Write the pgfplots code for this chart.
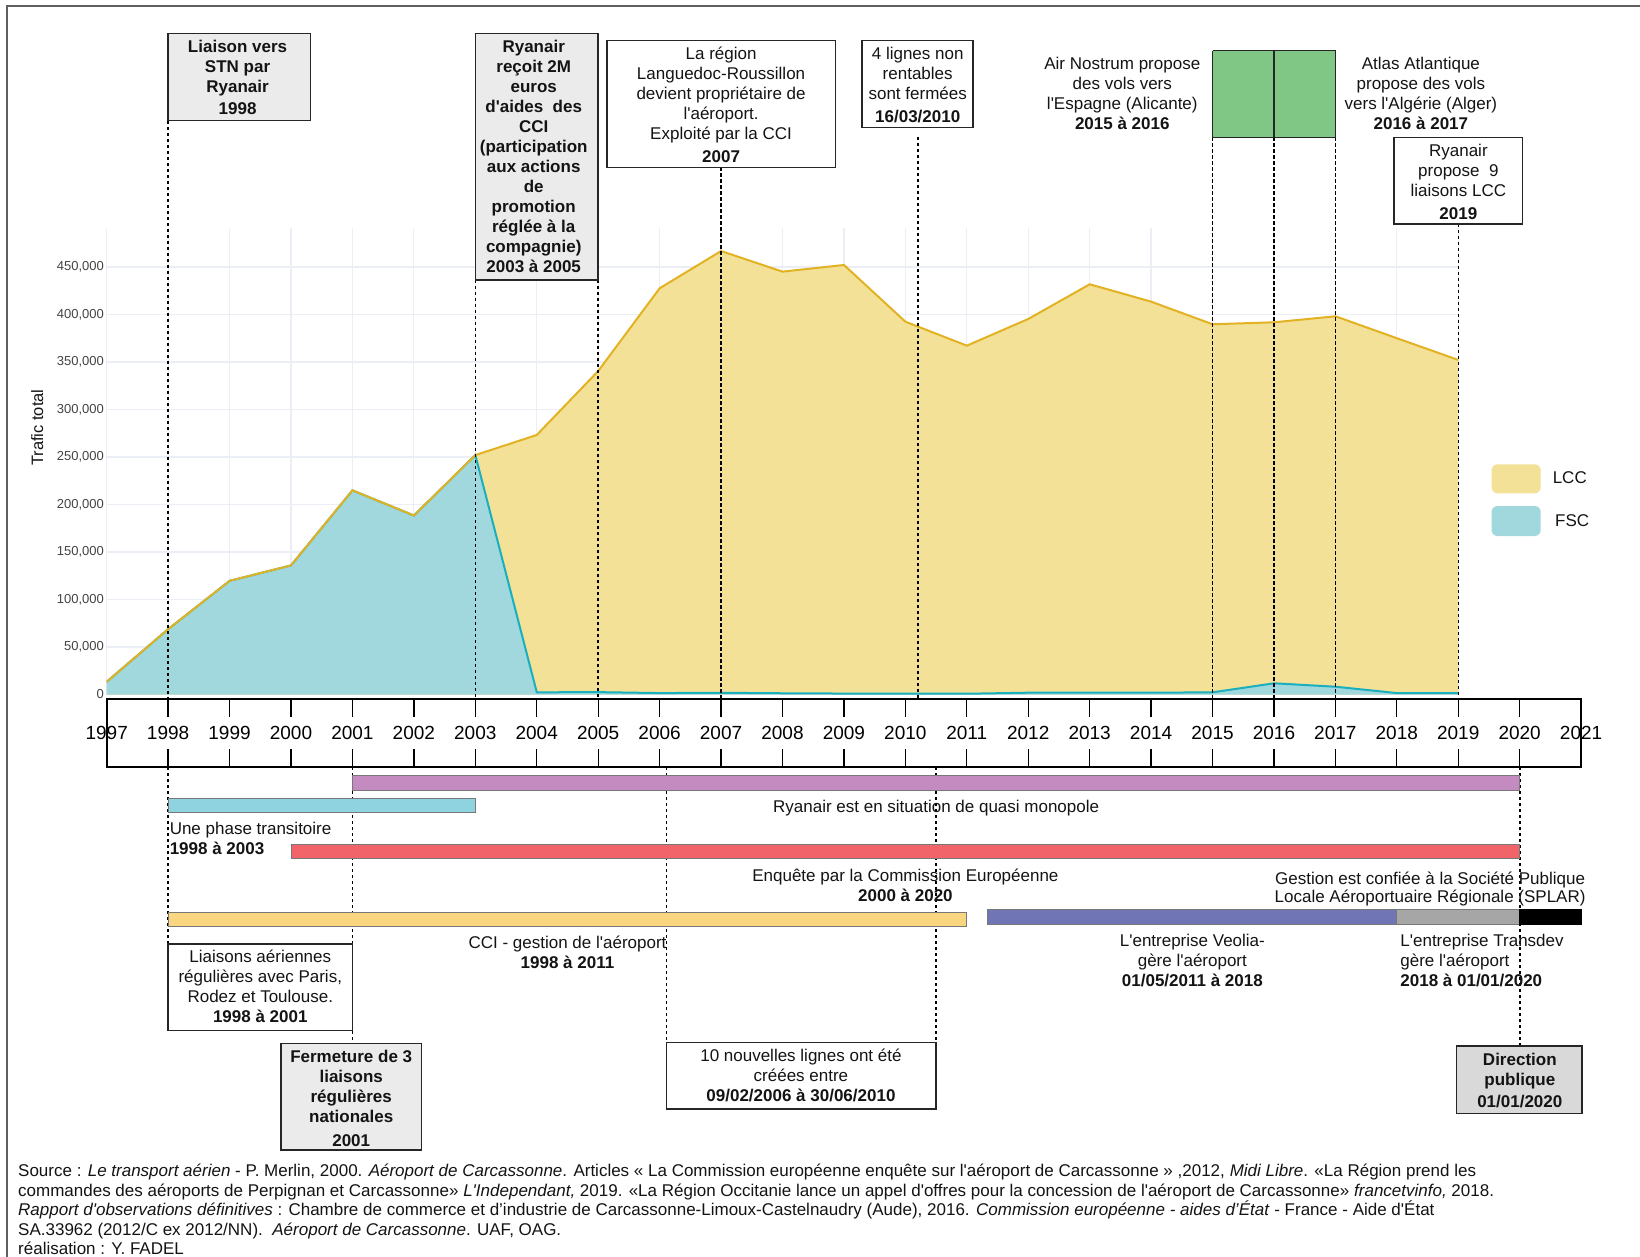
\documentclass[border=0pt]{standalone}
\usepackage{fontspec}
\setmainfont{Liberation Sans}[Ligatures=TeXOff]
\usepackage{pgfplots}
\usepackage{pgfplotstable}
\pgfplotsset{compat=1.18}

\definecolor{lccfill}{RGB}{243,225,152}
\definecolor{lccline}{RGB}{226,178,35}
\definecolor{fscfill}{RGB}{160,216,222}
\definecolor{fscline}{RGB}{25,175,190}
\definecolor{gridc}{RGB}{236,238,245}
\definecolor{tickc}{RGB}{68,68,68}
\definecolor{boxg}{RGB}{235,235,235}
\definecolor{boxd}{RGB}{217,217,217}
\definecolor{cgreen}{RGB}{128,198,132}
\definecolor{cpurple}{RGB}{195,139,191}
\definecolor{ccyan}{RGB}{143,211,224}
\definecolor{cred}{RGB}{240,100,106}
\definecolor{cyellow}{RGB}{250,214,128}
\definecolor{cveolia}{RGB}{112,117,182}
\definecolor{cgray}{RGB}{166,166,166}
\definecolor{barb}{RGB}{120,120,120}
\definecolor{framec}{RGB}{96,96,96}
\definecolor{txt}{RGB}{20,20,20}

\newcommand\fA{\fontsize{8.5pt}{10pt}\selectfont}
\newcommand\fB{\fontsize{8.5pt}{10pt}\selectfont\bfseries}
\newcommand\fY{\fontsize{9.5pt}{11pt}\selectfont}
\newcommand\fT{\fontsize{6.5pt}{8pt}\selectfont}
\newcommand\fL{\fontsize{8.25pt}{9.85pt}\selectfont}
\newcommand\fF{\fontsize{8.5pt}{9.85pt}\selectfont}

% centred line / left-aligned line: font, x (year), baseline row (px), text
\newcommand\Tc[4]{\node[anchor=base,inner sep=0pt,font=#1,text=txt] at (axis cs:#2,-#3) {#4};}
\newcommand\Tl[4]{\node[anchor=base west,inner sep=0pt,font=#1,text=txt] at (axis cs:#2,-#3) {#4};}

\pgfplotstableread{
year fsc lcc
1997 13400 0
1998 68800 0
1999 119600 0
2000 135900 0
2001 214900 0
2002 188400 0
2003 252000 0
2004 2300 270900
2005 2500 338000
2006 1500 426100
2007 1800 465000
2008 1300 443800
2009 1000 451100
2010 1000 391400
2011 800 366400
2012 1900 393400
2013 1900 429900
2014 1900 411600
2015 2300 387400
2016 11800 380000
2017 8200 389900
2018 1500 373500
2019 1500 350600
}\traffic

\begin{document}
\begin{tikzpicture}
\useasboundingbox (0,0) rectangle (820pt,-628.5pt);
\fill[white] (0,0) rectangle (820pt,-628.5pt);
\draw[line width=1pt, framec] (3.5pt,-640pt) -- (3.5pt,-3pt) -- (830pt,-3pt);

% ---------- area chart ----------
\begin{axis}[
  at={(53.35pt,-347.25pt)}, anchor=south west, scale only axis,
  width=675.84pt, height=233.25pt,
  xmin=1997, xmax=2019, ymin=0, ymax=491053,
  xtick={1997,...,2019}, xticklabels={}, xticklabel style={opacity=0},
  ytick={0,50000,...,450000},
  grid=major, major grid style={draw=gridc, line width=0.6pt},
  axis line style={draw=none}, tick style={draw=none},
  scaled y ticks=false,
  yticklabel style={font=\fT, text=tickc, anchor=east, inner sep=0pt, xshift=-1.2pt},
  /pgf/number format/.cd, fixed, 1000 sep={,}, assume math mode=true
]
\addplot[fill=lccfill, draw=none] table[x=year, y expr=\thisrow{fsc}+\thisrow{lcc}] {\traffic} \closedcycle;
\addplot[fill=fscfill, draw=none] table[x=year, y=fsc] {\traffic} \closedcycle;
\addplot[draw=fscline, line width=1pt] table[x=year, y=fsc] {\traffic};
\addplot[draw=lccline, line width=1pt] table[x=year, y expr=\thisrow{fsc}+\thisrow{lcc}] {\traffic};
\end{axis}

% ---------- timeline ----------
\begin{axis}[
  at={(53.35pt,-383.5pt)}, anchor=south west, scale only axis,
  width=737.28pt, height=34pt,
  xmin=1997, xmax=2021, ymin=0, ymax=1,
  xtick={1997,...,2021}, ytick=\empty,
  xtick pos=both, tick align=inside, major tick length=8.85pt,
  tick style={black, line width=0.65pt},
  axis line style={black, line width=1pt},
  xticklabel style={font=\fY, anchor=center, yshift=17pt, inner sep=0pt},
  /pgf/number format/.cd, 1000 sep={}, assume math mode=true
]
\end{axis}

% ---------- annotations ----------
\begin{axis}[
  at={(53.35pt,-628.5pt)}, anchor=south west, scale only axis,
  width=737.28pt, height=628.5pt,
  xmin=1997, xmax=2021, ymin=-1257, ymax=0,
  hide axis, clip=false
]
\tikzset{dl/.style={black, line width=0.8pt, dash pattern=on 1.7pt off 1.3pt},
         bx/.style={draw=black!85, line width=0.75pt}}
% dashed guides (upper)
\draw[dl] (axis cs:1998,-120.7) -- (axis cs:1998,-699);
\draw[dl] (axis cs:2003,-280) -- (axis cs:2003,-699);
\draw[dl] (axis cs:2005,-280) -- (axis cs:2005,-699);
\draw[dl] (axis cs:2007,-167.3) -- (axis cs:2007,-699);
\draw[dl] (axis cs:2010.2,-136.7) -- (axis cs:2010.2,-699);
\draw[dl] (axis cs:2015,-137.3) -- (axis cs:2015,-699);
\draw[dl] (axis cs:2016,-137.3) -- (axis cs:2016,-699);
\draw[dl] (axis cs:2017,-137.3) -- (axis cs:2017,-699);
\draw[dl] (axis cs:2019,-224) -- (axis cs:2019,-699);
% dashed guides (lower)
\draw[dl] (axis cs:1998,-767) -- (axis cs:1998,-944);
\draw[dl] (axis cs:2001,-767) -- (axis cs:2001,-1043.3);
\draw[dl] (axis cs:2006.11,-767) -- (axis cs:2006.11,-1042.3);
\draw[dl] (axis cs:2010.5,-767) -- (axis cs:2010.5,-1042.3);
\draw[dl] (axis cs:2020,-767) -- (axis cs:2020,-1046);

% Gantt bars
\addplot[fill=cpurple, draw=barb, line width=0.5pt] coordinates {(2001,-775.7) (2020,-775.7) (2020,-790) (2001,-790) (2001,-775.7)};
\addplot[fill=ccyan, draw=barb, line width=0.5pt] coordinates {(1998,-798.3) (2003,-798.3) (2003,-812.7) (1998,-812.7) (1998,-798.3)};
\addplot[fill=cred, draw=barb, line width=0.5pt] coordinates {(2000,-844.3) (2020,-844.3) (2020,-858.3) (2000,-858.3) (2000,-844.3)};
\addplot[fill=cyellow, draw=barb, line width=0.5pt] coordinates {(1998,-912.3) (2011,-912.3) (2011,-926.7) (1998,-926.7) (1998,-912.3)};
\addplot[fill=cveolia, draw=barb, line width=0.5pt] coordinates {(2011.33,-909.3) (2018,-909.3) (2018,-924) (2011.33,-924) (2011.33,-909.3)};
\addplot[fill=cgray, draw=barb, line width=0.5pt] coordinates {(2018,-909.3) (2020,-909.3) (2020,-924) (2018,-924) (2018,-909.3)};
\addplot[fill=black, draw=black, line width=0.5pt] coordinates {(2020,-909.3) (2021,-909.3) (2021,-924) (2020,-924) (2020,-909.3)};
% green periods
\addplot[fill=cgreen, draw=black!85, line width=0.75pt] coordinates {(2015,-50.7) (2017,-50.7) (2017,-137.3) (2015,-137.3) (2015,-50.7)};
\draw[black!85, line width=0.75pt] (axis cs:2016,-50.7) -- (axis cs:2016,-137.3);

% upper boxes
\draw[bx, fill=boxg] (axis cs:1998,-33.3) rectangle (axis cs:2000.32,-120.7);
\draw[bx, fill=boxg] (axis cs:2003,-33.3) rectangle (axis cs:2005,-280);
\draw[bx, fill=white] (axis cs:2005.14,-40.7) rectangle (axis cs:2008.86,-167.3);
\draw[bx, fill=white] (axis cs:2009.29,-40.7) rectangle (axis cs:2011.10,-127.3);
\draw[bx, fill=white] (axis cs:2017.95,-137.3) rectangle (axis cs:2020.04,-224);
% lower boxes
\draw[bx, fill=white] (axis cs:1998,-944) rectangle (axis cs:2001,-1030.7);
\draw[bx, fill=boxg] (axis cs:1999.84,-1043.3) rectangle (axis cs:2002.12,-1150);
\draw[bx, fill=white] (axis cs:2006.11,-1042.3) rectangle (axis cs:2010.5,-1109);
\draw[bx, fill=boxd] (axis cs:2018.97,-1046) rectangle (axis cs:2021.01,-1113.3);

% upper texts
\Tc{\fB}{1999.13}{52.7}{Liaison vers}
\Tc{\fB}{1999.13}{72.7}{STN par}
\Tc{\fB}{1999.13}{92.7}{Ryanair}
\Tc{\fB}{1999.13}{114.3}{1998}
\Tc{\fB}{2003.95}{52.7}{Ryanair}
\Tc{\fB}{2003.95}{72.7}{reçoit 2M}
\Tc{\fB}{2003.95}{92.7}{euros}
\Tc{\fB}{2003.95}{112.7}{d'aides\ \ des}
\Tc{\fB}{2003.95}{132.7}{CCI}
\Tc{\fB}{2003.95}{152.7}{(participation}
\Tc{\fB}{2003.95}{172.7}{aux actions}
\Tc{\fB}{2003.95}{192.7}{de}
\Tc{\fB}{2003.95}{212.7}{promotion}
\Tc{\fB}{2003.95}{232.7}{réglée à la}
\Tc{\fB}{2003.95}{252.7}{compagnie)}
\Tc{\fB}{2003.95}{272.7}{2003 à 2005}
\Tc{\fA}{2007}{59.3}{La région}
\Tc{\fA}{2007}{79.3}{Languedoc-Roussillon}
\Tc{\fA}{2007}{99.3}{devient propriétaire de}
\Tc{\fA}{2007}{119.3}{l'aéroport.}
\Tc{\fA}{2007}{139.3}{Exploité par la CCI}
\Tc{\fB}{2007}{162}{2007}
\Tc{\fA}{2010.2}{59.3}{4 lignes non}
\Tc{\fA}{2010.2}{79.3}{rentables}
\Tc{\fA}{2010.2}{99.3}{sont fermées}
\Tc{\fB}{2010.2}{122}{16/03/2010}
\Tc{\fA}{2013.53}{69.3}{Air Nostrum propose}
\Tc{\fA}{2013.53}{89.3}{des vols vers}
\Tc{\fA}{2013.53}{109.3}{l'Espagne (Alicante)}
\Tc{\fB}{2013.53}{129.3}{2015 à 2016}
\Tc{\fA}{2018.39}{69.3}{Atlas Atlantique}
\Tc{\fA}{2018.39}{89.3}{propose des vols}
\Tc{\fA}{2018.39}{109.3}{vers l'Algérie (Alger)}
\Tc{\fB}{2018.39}{129.3}{2016 à 2017}
\Tc{\fA}{2019}{156}{Ryanair}
\Tc{\fA}{2019}{176}{propose\ \ 9}
\Tc{\fA}{2019}{196}{liaisons LCC}
\Tc{\fB}{2019}{219.3}{2019}

% legend
\draw[fill=lccfill, draw=none, rounded corners=3pt] (axis cs:2019.54,-464.3) rectangle (axis cs:2020.34,-493.3);
\draw[fill=fscfill, draw=none, rounded corners=3pt] (axis cs:2019.54,-506) rectangle (axis cs:2020.34,-536);
\Tl{\fA}{2020.53}{483.3}{LCC}
\Tl{\fA}{2020.57}{526}{FSC}
% y-axis title
\node[rotate=90, font=\fL, text=txt, inner sep=0pt] at (axis cs:1995.87,-427.7) {Trafic total};

% lower texts
\Tc{\fA}{2010.5}{812.7}{Ryanair est en situation de quasi monopole}
\Tl{\fA}{1998.02}{834.3}{Une phase transitoire}
\Tl{\fB}{1998.02}{854.3}{1998 à 2003}
\Tc{\fA}{2010}{881}{Enquête par la Commission Européenne}
\Tc{\fB}{2010}{901}{2000 à 2020}
\Tc{\fA}{2018.54}{884.3}{Gestion est confiée à la Société Publique}
\Tc{\fA}{2018.54}{902.7}{Locale Aéroportuaire Régionale (SPLAR)}
\Tc{\fA}{2004.5}{948.7}{CCI - gestion de l'aéroport}
\Tc{\fB}{2004.5}{968.7}{1998 à 2011}
\Tc{\fA}{2014.67}{946}{L'entreprise Veolia-}
\Tc{\fA}{2014.67}{966}{gère l'aéroport}
\Tc{\fB}{2014.67}{986}{01/05/2011 à 2018}
\Tl{\fA}{2018.05}{946}{L'entreprise Transdev}
\Tl{\fA}{2018.05}{966}{gère l'aéroport}
\Tl{\fB}{2018.05}{986}{2018 à 01/01/2020}
\Tc{\fA}{1999.5}{962.7}{Liaisons aériennes}
\Tc{\fA}{1999.5}{982.7}{régulières avec Paris,}
\Tc{\fA}{1999.5}{1002.7}{Rodez et Toulouse.}
\Tc{\fB}{1999.5}{1022.7}{1998 à 2001}
\Tc{\fB}{2000.98}{1062.7}{Fermeture de 3}
\Tc{\fB}{2000.98}{1082.7}{liaisons}
\Tc{\fB}{2000.98}{1102.7}{régulières}
\Tc{\fB}{2000.98}{1122.7}{nationales}
\Tc{\fB}{2000.98}{1146}{2001}
\Tc{\fA}{2008.3}{1061}{10 nouvelles lignes ont été}
\Tc{\fA}{2008.3}{1081}{créées entre}
\Tc{\fB}{2008.3}{1101}{09/02/2006 à 30/06/2010}
\Tc{\fB}{2020}{1065}{Direction}
\Tc{\fB}{2020}{1085}{publique}
\Tc{\fB}{2020}{1107.7}{01/01/2020}

% footer
\Tl{\fF}{1995.553}{1176}{Source : \textit{Le transport aérien} - P. Merlin, 2000. \textit{Aéroport de Carcassonne}. Articles « La Commission européenne enquête sur l'aéroport de Carcassonne » ,2012, \textit{Midi Libre}. «La Région prend les}
\Tl{\fF}{1995.553}{1196}{commandes des aéroports de Perpignan et Carcassonne» \textit{L'Independant,} 2019. «La Région Occitanie lance un appel d'offres pour la concession de l'aéroport de Carcassonne» \textit{francetvinfo,} 2018.}
\Tl{\fF}{1995.553}{1215.7}{\textit{Rapport d'observations définitives} : Chambre de commerce et d’industrie de Carcassonne-Limoux-Castelnaudry (Aude), 2016. \textit{Commission européenne - aides d’État} - France - Aide d'État}
\Tl{\fF}{1995.553}{1235.5}{SA.33962 (2012/C ex 2012/NN).\ \ \textit{Aéroport de Carcassonne}. UAF, OAG.}
\Tl{\fF}{1995.553}{1254.5}{réalisation : Y. FADEL}
\end{axis}
\end{tikzpicture}
\end{document}
